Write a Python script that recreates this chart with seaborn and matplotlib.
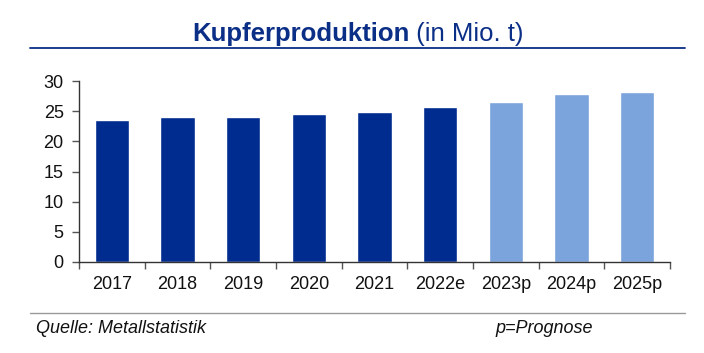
import matplotlib
matplotlib.use("Agg")
import matplotlib.pyplot as plt
import seaborn as sns
import pandas as pd
from matplotlib.lines import Line2D

categories = ["2017", "2018", "2019", "2020", "2021", "2022e", "2023p", "2024p", "2025p"]
values = [23.5, 24.0, 24.05, 24.6, 24.9, 25.7, 26.5, 27.9, 28.2]
kinds = ["Ist", "Ist", "Ist", "Ist", "Ist", "Ist", "Prognose", "Prognose", "Prognose"]
yticks = [0, 5, 10, 15, 20, 25, 30]

dark = "#002B8F"
light = "#7BA3DC"
title_col = "#0B2E86"

sns.set_theme(style="white")
plt.rcParams["font.family"] = ["Liberation Sans", "DejaVu Sans"]

df = pd.DataFrame({"Jahr": categories, "Wert": values, "Art": kinds})

fig = plt.figure(figsize=(7.04, 3.53), dpi=100)
ax = fig.add_axes([79/704, 1 - 262/353, (670 - 79)/704, (262 - 81)/353])

sns.barplot(data=df, x="Jahr", y="Wert", hue="Art", palette={"Ist": dark, "Prognose": light},
            dodge=False, width=0.52, legend=False, ax=ax, saturation=1)

ax.set_ylim(0, 30)
ax.set_xlim(-0.5, len(categories) - 0.5)
ax.set_yticks(yticks)
ax.set_xlabel("")
ax.set_ylabel("")
for s in ["top", "right"]:
    ax.spines[s].set_visible(False)
for s in ["left", "bottom"]:
    ax.spines[s].set_color("#333333")
    ax.spines[s].set_linewidth(1.0)

ax.tick_params(axis="y", left=True, length=5, width=1, color="#555555", pad=6, labelsize=13, labelcolor="#111111")
ax.tick_params(axis="x", bottom=False, length=0, pad=10, labelsize=13, labelcolor="#111111")
ax.set_xticks([i - 0.5 for i in range(len(categories) + 1)], minor=True)
ax.tick_params(axis="x", which="minor", bottom=True, length=5, width=1, color="#555555")

# Title in two parts
t1 = fig.text(0, 0, "Kupferproduktion", fontsize=18.5, fontweight="bold", color=title_col, va="baseline")
t2 = fig.text(0, 0, " (in Mio. t)", fontsize=18.5, color=title_col, va="baseline")
fig.canvas.draw()
r = fig.canvas.get_renderer()
w1 = t1.get_window_extent(r).width
w2 = t2.get_window_extent(r).width
total = w1 + w2
cx = 358
x0 = cx - total / 2
yb = 1 - 41/353
t1.set_position((x0 / 704, yb))
t2.set_position(((x0 + w1) / 704, yb))

fig.add_artist(Line2D([30/704, 685/704], [1 - 48/353, 1 - 48/353], color="#0B2E86", lw=1.3))
fig.add_artist(Line2D([30/704, 685/704], [1 - 313/353, 1 - 313/353], color="#999999", lw=1.0))

fig.text(36/704, 1 - 333/353, "Quelle: Metallstatistik", fontsize=13, style="italic", color="#111111")
fig.text(495/704, 1 - 333/353, "p=Prognose", fontsize=13, style="italic", color="#111111")

fig.savefig("out.png", dpi=100)
